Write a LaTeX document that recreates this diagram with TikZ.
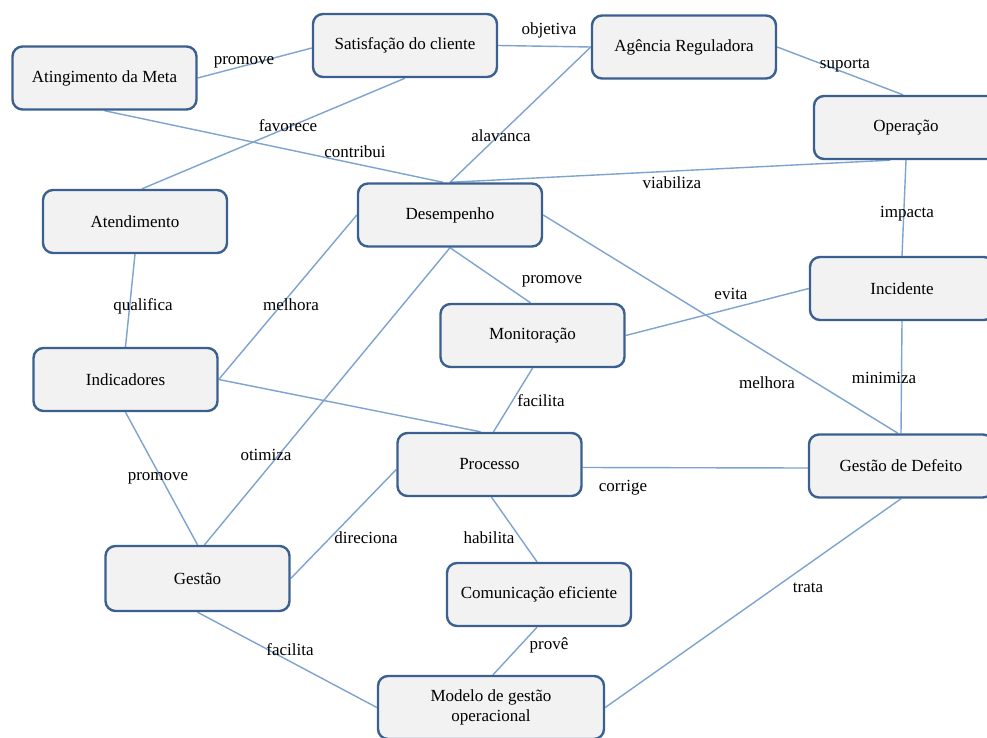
\documentclass[tikz,border=0pt]{standalone}
\usepackage{fontspec}
\setmainfont{Liberation Serif}
\usetikzlibrary{backgrounds}
\definecolor{boxline}{HTML}{3B6090}
\definecolor{boxfill}{HTML}{F2F2F2}
\definecolor{edgecol}{HTML}{7DA3CF}
\tikzset{
  concept/.style={draw=boxline, fill=boxfill, line width=2.4pt, rounded corners=10pt,
    minimum width=184pt, minimum height=63pt, inner sep=0pt, align=center,
    font=\fontsize{17}{20}\selectfont},
  link/.style={draw=edgecol, line width=1.4pt},
  lbl/.style={inner sep=0pt, font=\fontsize{17}{20}\selectfont}
}
\begin{document}
\begin{tikzpicture}[x=1pt,y=-1pt]
\useasboundingbox (0,0) rectangle (987,738);
\clip (0,0) rectangle (987,738);

% concepts
\node[concept] (sat) at (405,45.5) {Satisfação do cliente};
\node[concept] (ati) at (104.5,78) {Atingimento da Meta};
\node[concept] (age) at (684,47) {Agência Reguladora};
\node[concept] (ope) at (906,127.5) {Operação};
\node[concept] (atd) at (135,221.5) {Atendimento};
\node[concept] (des) at (450,215) {Desempenho};
\node[concept] (inc) at (902,288.5) {Incidente};
\node[concept] (mon) at (532.5,335.5) {Monitoração};
\node[concept] (ind) at (125.5,379.5) {Indicadores};
\node[concept] (proc) at (489.5,464.5) {Processo};
\node[concept] (gdd) at (901,466) {Gestão de Defeito};
\node[concept, minimum height=65pt] (ges) at (197.5,578.5) {Gestão};
\node[concept] (com) at (539,594.5) {Comunicação eficiente};
\node[concept, minimum width=226pt] (mod) at (491,707.5) {Modelo de gestão\\operacional};

% connectors, behind the boxes
\begin{scope}[on background layer]
\fill[white] (0,0) rectangle (987,738);
\draw[link] (ati.east) -- ([yshift=-2.5pt]sat.west);
\draw[link] (sat.east) -- (age.west);
\draw[link] (age.east) -- ([xshift=-3pt]ope.north);
\draw[link] (sat.south) -- ([xshift=7pt]atd.north);
\draw[link] (ati.south) -- ([xshift=-7pt]des.north);
\draw[link] (age.west) -- (des.north);
\draw[link] ([xshift=-16pt]ope.south) -- (des.north);
\draw[link] (ope.south) -- (inc.north);
\draw[link] (inc.south) -- (gdd.north);
\draw[link] (des.east) -- ([xshift=-3pt]gdd.north);
\draw[link] (des.south) -- ([xshift=-2pt]mon.north);
\draw[link] (des.west) -- (ind.east);
\draw[link] (des.south) -- ([xshift=7pt]ges.north);
\draw[link] (mon.east) -- (inc.west);
\draw[link] (atd.south) -- (ind.north);
\draw[link] (ind.east) -- ([xshift=-9pt]proc.north);
\draw[link] (mon.south) -- ([xshift=4pt]proc.north);
\draw[link] (ind.south) -- (ges.north);
\draw[link] ([yshift=-3pt]proc.east) -- ([yshift=-2pt]gdd.west);
\draw[link] ([yshift=-5pt]proc.west) -- (ges.east);
\draw[link] ([xshift=2pt]proc.south) -- ([xshift=-2pt]com.north);
\draw[link] ([xshift=-2pt]com.south) -- ([xshift=2pt]mod.north);
\draw[link] (ges.south) -- (mod.west);
\draw[link] (gdd.south) -- (mod.east);
\end{scope}

% labels
\node[lbl] (l1) at (244,62) {promove};
\node[lbl] (l2) at (549,30) {objetiva};
\node[lbl] (l3) at (845,66) {suporta};
\node[lbl] (l4) at (288,126) {favorece};
\node[lbl] (l5) at (355,152) {contribui};
\node[lbl] (l6) at (501,136) {alavanca};
\node[lbl] (l7) at (672,183) {viabiliza};
\node[lbl] (l8) at (907,214) {impacta};
\node[lbl] (l9) at (143,306) {qualifica};
\node[lbl] (l10) at (291,305) {melhora};
\node[lbl] (l11) at (266,455) {otimiza};
\node[lbl] (l12) at (158,478) {promove};
\node[lbl] (l13) at (552,281) {promove};
\node[lbl] (l14) at (731,294) {evita};
\node[lbl] (l15) at (767,383) {melhora};
\node[lbl] (l16) at (884,378) {minimiza};
\node[lbl] (l17) at (541,401) {facilita};
\node[lbl] (l18) at (623,488) {corrige};
\node[lbl] (l19) at (366,538) {direciona};
\node[lbl] (l20) at (489,538) {habilita};
\node[lbl] (l21) at (549,645) {provê};
\node[lbl] (l22) at (290,650) {facilita};
\node[lbl] (l23) at (808,588) {trata};
\end{tikzpicture}
\end{document}
